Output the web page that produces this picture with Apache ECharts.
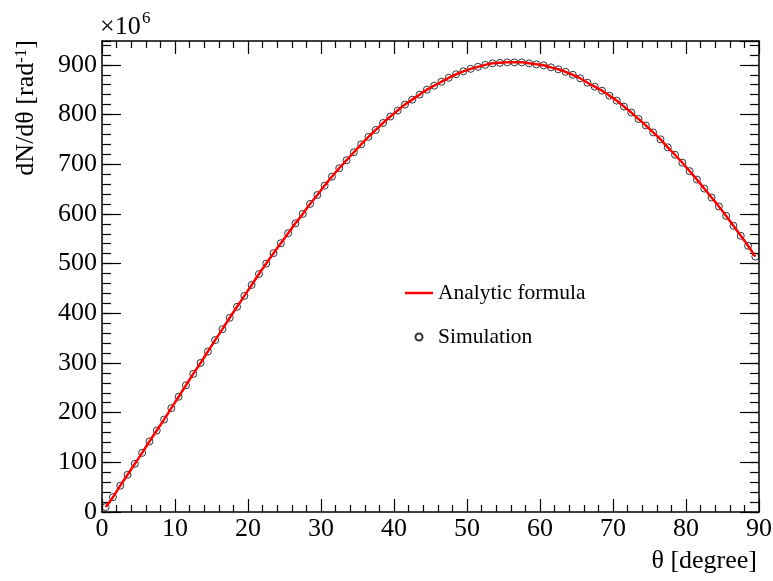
<!DOCTYPE html>
<html>
<head>
<meta charset="utf-8">
<script src="https://cdn.jsdelivr.net/npm/echarts@6/dist/echarts.min.js"></script>
<style>
html,body{margin:0;padding:0;background:#fff;}
#chart{width:773px;height:581px;}
</style>
</head>
<body>
<div id="chart"></div>
<script>
// Bin centres (degree)
const theta = [0.5,1.5,2.5,3.5,4.5,5.5,6.5,7.5,8.5,9.5,
  10.5,11.5,12.5,13.5,14.5,15.5,16.5,17.5,18.5,19.5,
  20.5,21.5,22.5,23.5,24.5,25.5,26.5,27.5,28.5,29.5,
  30.5,31.5,32.5,33.5,34.5,35.5,36.5,37.5,38.5,39.5,
  40.5,41.5,42.5,43.5,44.5,45.5,46.5,47.5,48.5,49.5,
  50.5,51.5,52.5,53.5,54.5,55.5,56.5,57.5,58.5,59.5,
  60.5,61.5,62.5,63.5,64.5,65.5,66.5,67.5,68.5,69.5,
  70.5,71.5,72.5,73.5,74.5,75.5,76.5,77.5,78.5,79.5,
  80.5,81.5,82.5,83.5,84.5,85.5,86.5,87.5,88.5,89.5];
// Simulation (x10^6 rad^-1)
const simulation = [10,30,53,75,97,119,142,164,186,209,
  232,255,278,300,323,346,368,391,413,435,
  457,479,500,521,541,561,581,600,620,638,
  657,675,692,708,724,740,755,769,783,796,
  808,820,830,840,850,858,866,874,881,887,
  892,896,900,903,904,905,905,905,903,901,
  899,895,891,886,880,873,864,856,848,838,
  828,816,804,791,778,764,750,734,719,703,
  686,669,651,633,615,596,576,556,536,514];
// Analytic formula curve (x10^6 rad^-1)
const analytic = [10,30,53,75,97,119,142,164,186,209,
  232,255,278,300,323,346,368,391,413,435,
  457,479,500,521,541,561,581,600,620,638,
  657,675,692,708,724,740,755,769,783,796,
  808,820,830,840,850,858,866,874,881,887,
  892,896,900,903,904,905,905,905,903,901,
  899,895,891,886,880,873,864,856,848,838,
  828,816,804,791,778,764,750,734,719,703,
  686,669,651,633,615,596,576,556,536,514];
const seriesNames = ['Analytic formula', 'Simulation'];
const xTitle = 'θ [degree]';
const xMin = 0, xMax = 90, xStep = 10;
const yMin = 0, yMax = 948, yStep = 100, yMinorStep = 20;

const FONT = 'Liberation Serif';
const chart = echarts.init(document.getElementById('chart'), null, {renderer: 'canvas'});

function xAx(pos, labels) {
  return {
    type: 'value', position: pos, min: xMin, max: xMax, interval: xStep,
    axisLine: {show: true, onZero: false, lineStyle: {color: '#000', width: 1.5}},
    axisTick: {show: true, inside: true, length: 13, lineStyle: {color: '#000', width: 1.2}},
    minorTick: {show: true, splitNumber: 5, length: 7, lineStyle: {color: '#000', width: 1.2}},
    axisLabel: {show: labels, margin: 4, color: '#000', fontFamily: FONT, fontSize: 26},
    splitLine: {show: false}
  };
}
function yAx(pos, step, len, labels, line) {
  return {
    type: 'value', position: pos, min: yMin, max: yMax, interval: step,
    axisLine: {show: line, onZero: false, lineStyle: {color: '#000', width: 1.5}},
    axisTick: {show: true, inside: true, length: len, lineStyle: {color: '#000', width: 1.2}},
    axisLabel: {show: labels, margin: 5, color: '#000', fontFamily: FONT, fontSize: 26, showMaxLabel: false},
    splitLine: {show: false}
  };
}

const xBottom = xAx('bottom', true);
xBottom.name = xTitle;
xBottom.nameLocation = 'end';
xBottom.nameGap = -2;
xBottom.nameMoveOverlap = false;
xBottom.nameTextStyle = {fontFamily: FONT, fontSize: 26, color: '#000', align: 'right', verticalAlign: 'top', padding: [36, 0, 0, 0]};

const option = {
  animation: false,
  backgroundColor: '#fff',
  grid: {left: 102, right: 14, top: 41, bottom: 69, outerBoundsMode: 'none', containLabel: false},
  xAxis: [xBottom, xAx('top', false)],
  yAxis: [
    yAx('left', yStep, 19, true, true),
    yAx('left', yMinorStep, 9, false, false),
    yAx('right', yStep, 19, false, true),
    yAx('right', yMinorStep, 9, false, false)
  ],
  legend: {
    orient: 'vertical', left: 405, top: 281, padding: 0, itemGap: 20,
    itemWidth: 28, itemHeight: 7,
    textStyle: {fontFamily: FONT, fontSize: 21.5, color: '#000', lineHeight: 24},
    data: [
      {name: seriesNames[0], icon: 'path://M0,0L28,0L28,2.5L0,2.5Z'},
      {name: seriesNames[1], icon: 'circle'}
    ]
  },
  graphic: [
    {type: 'text', x: 100, y: 27, style: {text: '×10', fontFamily: FONT, fontSize: 26, fill: '#000', align: 'left', verticalAlign: 'middle'}},
    {type: 'text', x: 142, y: 19, style: {text: '6', fontFamily: FONT, fontSize: 17, fill: '#000', align: 'left', verticalAlign: 'middle'}},
    {type: 'text', x: 26, y: 40, rotation: Math.PI / 2,
      style: {text: '{a|dN/dθ [rad}{s|-1}{a|]}', fill: '#000', align: 'right', verticalAlign: 'middle',
        rich: {a: {fontFamily: FONT, fontSize: 26, fill: '#000'}, s: {fontFamily: FONT, fontSize: 17, verticalAlign: 'top', fill: '#000'}}}}
  ],
  series: [
    {
      name: seriesNames[1], type: 'scatter', xAxisIndex: 0, yAxisIndex: 0,
      symbol: 'circle', symbolSize: 7, z: 2,
      itemStyle: {color: 'rgba(0,0,0,0)', borderColor: '#000', borderWidth: 1},
      data: theta.map((t, i) => [t, simulation[i]])
    },
    {
      name: seriesNames[0], type: 'line', xAxisIndex: 0, yAxisIndex: 0,
      symbol: 'none', smooth: true, z: 3,
      lineStyle: {color: '#ff0000', width: 2.5},
      itemStyle: {color: '#ff0000'},
      data: theta.map((t, i) => [t, analytic[i]])
    }
  ]
};
chart.setOption(option);
</script>
</body>
</html>
